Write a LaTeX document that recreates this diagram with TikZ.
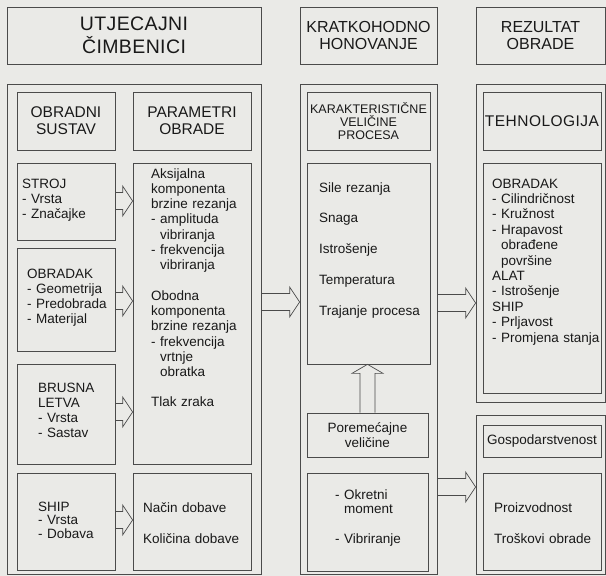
\documentclass[tikz,border=0pt]{standalone}
\usepackage{fontspec}
\setmainfont{Liberation Sans}
\usepackage{tikz}
\usetikzlibrary{calc,fit}

\definecolor{paper}{RGB}{234,234,231}
\definecolor{ink}{RGB}{75,75,75}
\definecolor{print}{RGB}{25,25,25}

% hollow block arrow pointing right, from node #1 to node #2 at height #3
\newcommand\blockarrow[3]{%
  \draw[arrline] let \p1=(#1.east |- 0,#3), \p2=(#2.west |- 0,#3) in
    (\x1,\y1+8.5pt) -- (\x2-10pt,\y1+8.5pt) -- (\x2-10pt,\y1+15pt) -- (\x2,\y1)
    -- (\x2-10pt,\y1-15pt) -- (\x2-10pt,\y1-8.5pt) -- (\x1,\y1-8.5pt);}

\begin{document}
\begin{tikzpicture}
    [   x=1pt,y=-1pt,
        box/.style={draw=ink,line width=0.7pt,inner sep=0pt},
        arrline/.style={draw=ink,line width=0.7pt},
        headtxt/.style={text=print,align=center,inner sep=0pt,font=\fontsize{16}{17.5}\selectfont},
        subtxt/.style={text=print,align=center,inner sep=0pt,font=\fontsize{15.5}{17}\selectfont},
        bodytxt/.style={text=print,anchor=base west,inner sep=0pt,text width=112pt,align=left,
                        font=\fontsize{13.5}{15.3}\selectfont},
    ]
    \path[use as bounding box,fill=paper] (0,0) rectangle (606,576);
    % frames
    \foreach \nm/\xa/\ya/\xb/\yb in {utjH/7/7/261/64, kratH/300/7/437/64, rezH/476/7/605/64,
        utjecaj/7/84/261/574, sustavH/17/92/115/150, paramH/133/92/251/150,
        stroj/17/163/115/240, obradak/17/248/115/351, brusna/17/364/115/464, ship/17/473/115/570,
        aksij/133/163/251/464, dobava/133/473/251/570,
        honov/300/84/437/574, karakH/307/92/430/150, sile/307/163/430/364,
        porem/307/413/428/457, okret/307/473/428/571,
        tehn/476/84/605/402, tehnH/483/92/601/150, tehnB/483/163/601/393,
        ekon/476/415/605/574, gosp/483/425/601/457, proiz/483/473/601/570}
        \node[box,fit={(\xa,\ya) (\xb,\yb)}] (\nm) {};

    % headings
    \node[headtxt,font=\fontsize{19.5}{23}\selectfont\addfontfeature{LetterSpace=2}] (utjH-t) at (utjH) {UTJECAJNI\\ČIMBENICI};
    \node[headtxt] (kratH-t) at (kratH) {KRATKOHODNO\\HONOVANJE};
    \node[headtxt] (rezH-t) at (rezH) {REZULTAT\\OBRADE};
    \node[subtxt] (sustavH-t) at (sustavH) {OBRADNI\\SUSTAV};
    \node[subtxt] (paramH-t) at (paramH) {PARAMETRI\\OBRADE};
    \node[headtxt,font=\fontsize{12.5}{13}\selectfont] (karakH-t) at (karakH) {KARAKTERISTIČNE\\VELIČINE\\PROCESA};
    \node[headtxt,font=\fontsize{15.5}{18}\selectfont\addfontfeature{LetterSpace=3}] (tehnH-t) at (tehnH) {TEHNOLOGIJA};
    \node[headtxt,font=\fontsize{13.5}{15}\selectfont] (gosp-t) at (gosp) {Gospodarstvenost};
    \node[headtxt,font=\fontsize{13.5}{15}\selectfont] (porem-t) at (porem) {Poremećajne\\veličine};

    % lists
    \node[bodytxt] (stroj-t) at (22,188) {STROJ\\- Vrsta\\- Značajke};
    \node[bodytxt] (obradak-t) at (27,278) {OBRADAK\\- Geometrija\\- Predobrada\\- Materijal};
    \node[bodytxt] (brusna-t) at (38,392) {BRUSNA\\LETVA\\- Vrsta\\- Sastav};
    \node[bodytxt,font=\fontsize{13.5}{13.8}\selectfont] (ship-t) at (38,511) {SHIP\\- Vrsta\\- Dobava};
    \node[bodytxt] (aksij-t) at (151,178) {Aksijalna\\komponenta\\brzine rezanja\\- amplituda\\\hphantom{- }vibriranja\\- frekvencija\\\hphantom{- }vibriranja\\[15pt]Obodna\\komponenta\\brzine rezanja\\- frekvencija\\\hphantom{- }vrtnje\\\hphantom{- }obratka\\[15pt]Tlak zraka};
    \node[bodytxt] (dobava-t) at (143,512) {Način dobave\\[16pt]Količina dobave};
    \node[bodytxt] (sile-t) at (319,192) {Sile rezanja\\[15.5pt]Snaga\\[15.5pt]Istrošenje\\[15.5pt]Temperatura\\[15.5pt]Trajanje procesa};
    \node[bodytxt,font=\fontsize{13.5}{14.5}\selectfont] (okret-t) at (335,499) {- Okretni\\\hphantom{- }moment\\[15pt]- Vibriranje};
    \node[bodytxt,font=\fontsize{13.5}{15.4}\selectfont] (tehnB-t) at (492,188) {OBRADAK\\- Cilindričnost\\- Kružnost\\- Hrapavost\\\hphantom{- }obrađene\\\hphantom{- }površine\\ALAT\\- Istrošenje\\SHIP\\- Prljavost\\- Promjena stanja};
    \node[bodytxt] (proiz-t) at (494,512) {Proizvodnost\\[16pt]Troškovi obrade};

    % flow arrows
    \blockarrow{stroj}{aksij}{201}
    \blockarrow{obradak}{aksij}{301}
    \blockarrow{brusna}{aksij}{412}
    \blockarrow{ship}{dobava}{520}
    \blockarrow{utjecaj}{honov}{302}
    \blockarrow{honov}{tehn}{303}
    \blockarrow{honov}{ekon}{487}
    \draw[arrline] let \p1=(porem.north), \p2=(sile.south) in
        (\x1-7.5pt,\y1) -- (\x1-7.5pt,\y2-9pt) -- (\x1-15.5pt,\y2-9pt) -- (\x1,\y2)
        -- (\x1+15.5pt,\y2-9pt) -- (\x1+7.5pt,\y2-9pt) -- (\x1+7.5pt,\y1);
\end{tikzpicture}
\end{document}
